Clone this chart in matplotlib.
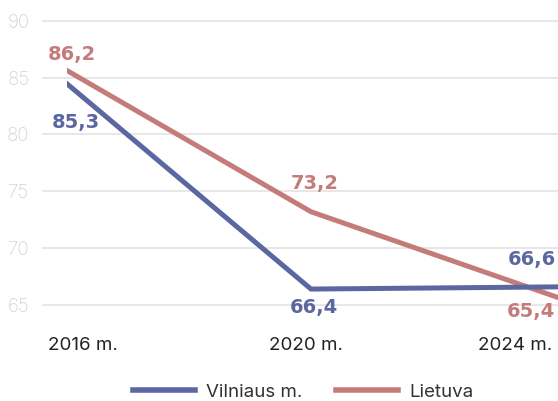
import matplotlib
matplotlib.use("Agg")
import matplotlib.pyplot as plt
from matplotlib.patches import Rectangle

plt.rcParams['font.family'] = ['Inter', 'DejaVu Sans']

categories = ["2016 m.", "2020 m.", "2024 m."]
vilnius = [85.3, 66.4, 66.6]
lietuva = [86.2, 73.2, 65.4]
value_labels_v = ["85,3", "66,4", "66,6"]
value_labels_l = ["86,2", "73,2", "65,4"]
yticks = [65, 70, 75, 80, 85, 90]

c_v = "#5a67a1"
c_l = "#c47c7b"

W, H = 558, 401
fig = plt.figure(figsize=(W / 100, H / 100), dpi=100)
ax = fig.add_axes([42 / W, (H - 330) / H, 1 - 42 / W, 330 / H])

x = list(range(len(categories)))
ax.set_xlim(-0.053, 1.967)
ax.set_ylim(62.8, 91.82)

for y in yticks:
    ax.axhline(y, color="#e3e3e3", lw=1.2, zorder=1)

clip = Rectangle((0.045, 50), 10, 60, transform=ax.transData, fill=False)
lv, = ax.plot(x, vilnius, color=c_v, lw=3.6, solid_joinstyle='miter', label="Vilniaus m.", zorder=3, clip_on=True)
ll, = ax.plot(x, lietuva, color=c_l, lw=3.6, solid_joinstyle='miter', label="Lietuva", zorder=2, clip_on=True)
lv.set_clip_path(clip)
ll.set_clip_path(clip)

for s in ax.spines.values():
    s.set_visible(False)
ax.set_xticks([])
ax.set_yticks(yticks)
ax.set_yticklabels([str(v) for v in yticks], fontsize=13.5, color="#d3d3d3", fontweight='light')
ax.tick_params(axis='y', length=0, pad=9)

# category labels
xoffs = [(-7.5, 'left'), (-5, 'center'), (-14, 'right')]
for i, lab in enumerate(categories):
    dx, ha = xoffs[i]
    ax.annotate(lab, xy=(x[i], 0), xycoords=('data', 'axes fraction'),
                xytext=(dx, -15), textcoords='offset pixels', ha=ha, va='center',
                fontsize=13.5, color="#222222", annotation_clip=False)

# data labels (offsets in pixels from each point)
off_v = [(20, -48), (3, -18), (-35, 27)]
off_l = [(16, 9), (4, 28), (-36, -11)]
lab_font = dict(family=['DejaVu Sans'], fontsize=14, fontweight='bold')
for i in x:
    ax.annotate(value_labels_v[i], xy=(x[i], vilnius[i]), xytext=off_v[i],
                textcoords='offset pixels', ha='center', va='center',
                color=c_v, annotation_clip=False, zorder=5, **lab_font)
    ax.annotate(value_labels_l[i], xy=(x[i], lietuva[i]), xytext=off_l[i],
                textcoords='offset pixels', ha='center', va='center',
                color=c_l, annotation_clip=False, zorder=5, **lab_font)

leg = fig.legend(handles=[lv, ll], loc='center', bbox_to_anchor=(303 / W, 1 - 392 / H),
                 ncol=2, frameon=False, fontsize=13.5, handlelength=3.3,
                 handletextpad=0.6, columnspacing=1.8)
for t in leg.get_texts():
    t.set_color("#333333")
for h in leg.legend_handles:
    h.set_linewidth(4)

fig.savefig("out.png", dpi=100)
